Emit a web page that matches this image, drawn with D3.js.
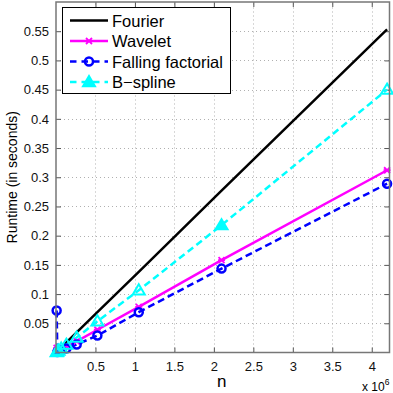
<!DOCTYPE html>
<html>
<head>
<meta charset="utf-8">
<script src="https://cdn.jsdelivr.net/npm/d3@7"></script>
<style>
  body { margin: 0; background: #fff; }
  svg { font-family: "Liberation Sans", Arial, sans-serif; }
</style>
</head>
<body>
<div id="chart"></div>
<script>
const nValues = [8192, 16384, 32768, 65536, 131072, 262144, 524288, 1048576, 2097152, 4194304];
const fourier = [0.0011, 0.0022, 0.0043, 0.0086, 0.0173, 0.0346, 0.069, 0.138, 0.277, 0.553];
const wavelet = [0.008, 0.0012, 0.0024, 0.0048, 0.0096, 0.019, 0.039, 0.078, 0.158, 0.312];
const fallingFactorial = [0.072, 0.001, 0.002, 0.004, 0.007, 0.0137, 0.029, 0.069, 0.1436, 0.289];
const bspline = [0.0009, 0.0018, 0.0035, 0.007, 0.0135, 0.0256, 0.0535, 0.1065, 0.218, 0.45];

const xTicks = [0.5e6, 1e6, 1.5e6, 2e6, 2.5e6, 3e6, 3.5e6, 4e6];
const yTicks = [0.05, 0.1, 0.15, 0.2, 0.25, 0.3, 0.35, 0.4, 0.45, 0.5, 0.55];

const seriesNames = ["Fourier", "Wavelet", "Falling factorial", "B\u2212spline"];

(function () {
    var width = 393, height = 393;
    var margin = { top: 2, right: 3.5, bottom: 40, left: 56 };

    var series = [
        { name: seriesNames[0], values: fourier, color: "#000000", dash: null, marker: null },
        { name: seriesNames[1], values: wavelet, color: "#ff00ff", dash: null, marker: "x" },
        { name: seriesNames[2], values: fallingFactorial, color: "#0000ff", dash: "7,4", marker: "o" },
        { name: seriesNames[3], values: bspline, color: "#00ffff", dash: "7,4", marker: "^" }
    ];

    var xScale = d3.scaleLinear()
        .domain([0, 4.225e6])
        .range([margin.left, width - margin.right]);

    var yScale = d3.scaleLinear()
        .domain([0, 0.6])
        .range([height - margin.bottom - 0.5, margin.top]);

    var svg = d3.select("#chart")
        .append("svg")
        .attr("width", width)
        .attr("height", height);

    var x0 = xScale.range()[0], x1 = xScale.range()[1];
    var y0 = yScale.range()[0], y1 = yScale.range()[1];

    // grid
    var grid = svg.append("g")
        .attr("stroke", "#b0b0b0")
        .attr("stroke-width", 1)
        .attr("stroke-dasharray", "1,3");
    grid.selectAll("line.gx")
        .data(xTicks)
        .enter()
        .append("line")
        .attr("x1", d => Math.round(xScale(d)) + 0.5)
        .attr("x2", d => Math.round(xScale(d)) + 0.5)
        .attr("y1", y0)
        .attr("y2", y1);
    grid.selectAll("line.gy")
        .data(yTicks)
        .enter()
        .append("line")
        .attr("y1", d => Math.round(yScale(d)) + 0.5)
        .attr("y2", d => Math.round(yScale(d)) + 0.5)
        .attr("x1", x0)
        .attr("x2", x1);

    // axes (ticks inside, mirrored)
    var fmtX = d => d3.format("~g")(d / 1e6);
    var xAxis = d3.axisBottom(xScale).tickValues(xTicks).tickSizeInner(-5).tickSizeOuter(0).tickPadding(9).tickFormat(fmtX);
    var yAxis = d3.axisLeft(yScale).tickValues(yTicks).tickSizeInner(-5).tickSizeOuter(0).tickPadding(7).tickFormat(d3.format("~g"));

    var xAxisEl = svg.append("g")
        .attr("class", "axis")
        .attr("transform", `translate(0,${y0})`)
        .call(xAxis);
    var yAxisEl = svg.append("g")
        .attr("class", "axis")
        .attr("transform", `translate(${x0},0)`)
        .call(yAxis);
    svg.append("g")
        .attr("transform", `translate(0,${y1})`)
        .call(d3.axisTop(xScale).tickValues(xTicks).tickSizeInner(-5).tickSizeOuter(0).tickFormat(""));
    svg.append("g")
        .attr("transform", `translate(${x1},0)`)
        .call(d3.axisRight(yScale).tickValues(yTicks).tickSizeInner(-5).tickSizeOuter(0).tickFormat(""));

    svg.selectAll(".tick line").attr("stroke", "#555");
    svg.selectAll(".domain").remove();
    svg.selectAll(".tick text")
        .attr("font-size", 13)
        .attr("fill", "#111")
        .attr("font-family", "Liberation Sans, Arial, sans-serif");

    // lines
    var line = d3.line()
        .x((d, i) => xScale(nValues[i]))
        .y(d => yScale(d));

    var plot = svg.append("g");
    series.forEach(s => {
        plot.append("path")
            .datum(s.values)
            .attr("d", line)
            .attr("fill", "none")
            .attr("stroke", s.color)
            .attr("stroke-width", 2.5)
            .attr("stroke-dasharray", s.dash);
    });

    function drawMarker(g, type, color, cx, cy, filled) {
        if (type == "o") {
            g.append("circle")
                .attr("cx", cx).attr("cy", cy).attr("r", 4)
                .attr("fill", "none").attr("stroke", color).attr("stroke-width", 2.5);
        } else if (type == "^") {
            var r = 6;
            g.append("path")
                .attr("d", `M${cx},${cy - r}L${cx + r},${cy + r * 0.7}L${cx - r},${cy + r * 0.7}Z`)
                .attr("fill", filled ? color : "none").attr("stroke", color).attr("stroke-width", 2);
        } else if (type == "x") {
            var s = 3;
            g.append("path")
                .attr("d", `M${cx - s},${cy - s}L${cx + s},${cy + s}M${cx - s},${cy + s}L${cx + s},${cy - s}M${cx - s - 0.5},${cy}L${cx + s + 0.5},${cy}`)
                .attr("stroke", color).attr("stroke-width", 1.8);
        }
    }

    series.forEach(s => {
        if (!s.marker) return;
        var g = plot.append("g");
        s.values.forEach((v, i) => {
            drawMarker(g, s.marker, s.color, xScale(nValues[i]), yScale(v), s.marker == "^" && i == 8);
        });
    });

    // frame
    svg.append("rect")
        .attr("x", x0).attr("y", y1)
        .attr("width", x1 - x0).attr("height", y0 - y1)
        .attr("fill", "none")
        .attr("stroke", "#777")
        .attr("stroke-width", 1.5);

    // labels
    svg.append("text")
        .text("n")
        .attr("x", (x0 + x1) / 2 - 1)
        .attr("y", 387)
        .attr("font-size", 17)
        .style("text-anchor", "middle");

    var mult = svg.append("text")
        .attr("x", 362)
        .attr("y", 391)
        .attr("font-size", 12);
    mult.append("tspan").text("x 10");
    mult.append("tspan").text("6").attr("font-size", 8.5).attr("dy", -6);

    svg.append("text")
        .text("Runtime (in seconds)")
        .attr("transform", "rotate(-90)")
        .attr("x", -(y0 + y1) / 2)
        .attr("y", 17)
        .attr("font-size", 14)
        .style("text-anchor", "middle");

    // legend
    var legend = svg.append("g");
    legend.append("rect")
        .attr("x", 62.5).attr("y", 7.5)
        .attr("width", 168).attr("height", 86)
        .attr("fill", "#fff")
        .attr("stroke", "#000")
        .attr("stroke-width", 1);

    series.forEach((s, i) => {
        var ly = 20.5 + i * 20.5;
        legend.append("line")
            .attr("x1", 70).attr("x2", 108)
            .attr("y1", ly).attr("y2", ly)
            .attr("stroke", s.color)
            .attr("stroke-width", 2.5)
            .attr("stroke-dasharray", s.dash ? "6.5,5" : null);
        if (s.marker) drawMarker(legend, s.marker, s.color, 89, ly, true);
        legend.append("text")
            .text(s.name)
            .attr("x", 112)
            .attr("y", ly + 6)
            .attr("font-size", 16.5);
    });
})();
</script>
</body>
</html>
